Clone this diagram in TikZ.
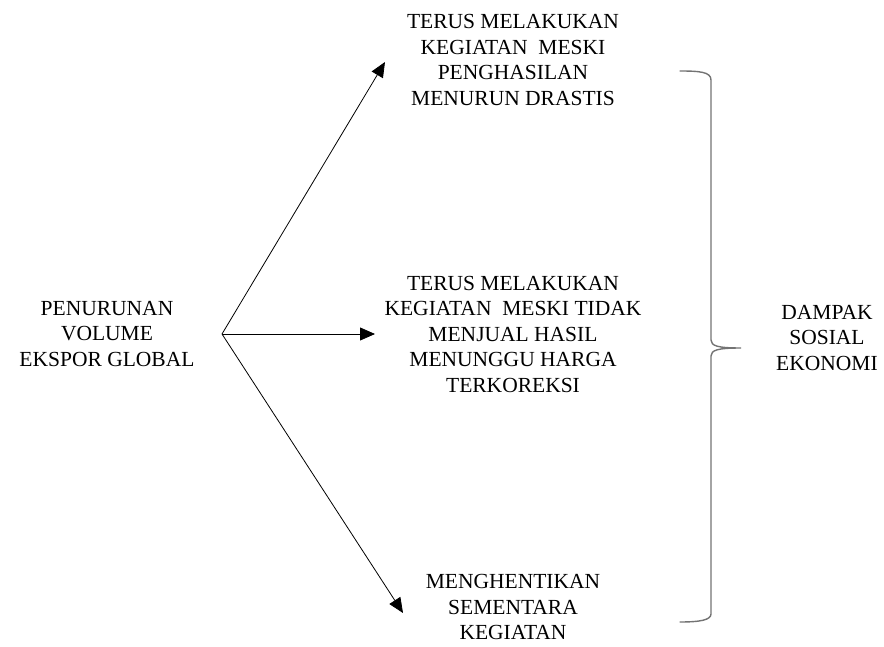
\documentclass[tikz,border=0pt]{standalone}
\usepackage{fontspec}
\setmainfont{Liberation Serif}
\usetikzlibrary{arrows.meta,positioning}
\tikzset{
  lnode/.style={align=center, inner sep=0pt, font=\fontsize{21.5}{25.5}\selectfont},
  flow/.style={-{Triangle[length=15pt,width=13pt]}, line width=0.8pt, black},
  bracket/.style={line width=1.4pt, draw=black!55, line cap=round},
}

\begin{document}
\begin{tikzpicture}[x=1pt, y=-1pt]
\useasboundingbox (0,0) rectangle (884,647);

% Cause
\node[lnode] (cause) at (107,334) {PENURUNAN\\VOLUME\\EKSPOR GLOBAL};

% Responses
\node[lnode] (r1) at (513,60) {TERUS MELAKUKAN\\KEGIATAN\ \ MESKI\\PENGHASILAN\\MENURUN DRASTIS};
\node[lnode] (r2) at (513,334) {TERUS MELAKUKAN\\KEGIATAN\ \ MESKI TIDAK\\MENJUAL HASIL\\MENUNGGU HARGA\\TERKOREKSI};
\node[lnode] (r3) at (513,607) {MENGHENTIKAN\\SEMENTARA\\KEGIATAN};

% Arrows
\coordinate (o) at (222,334);
\coordinate (t1) at (385,62);
\coordinate (t2) at (375,334);
\coordinate (t3) at (403,613);
\draw[flow] (o) -- (t1);
\draw[flow] (o) -- (t2);
\draw[flow] (o) -- (t3);

% Brace and effect
\draw[bracket] (680,71) .. controls (700,71) and (711,72) .. (711,80) -- (711,340)
  .. controls (711,346) and (718,348) .. (741,348)
  .. controls (718,348) and (711,350) .. (711,356) -- (711,614)
  .. controls (711,620) and (700,622) .. (680,622);
\node[lnode] (effect) at (827,338) {DAMPAK\\SOSIAL\\EKONOMI};

\end{tikzpicture}
\end{document}
